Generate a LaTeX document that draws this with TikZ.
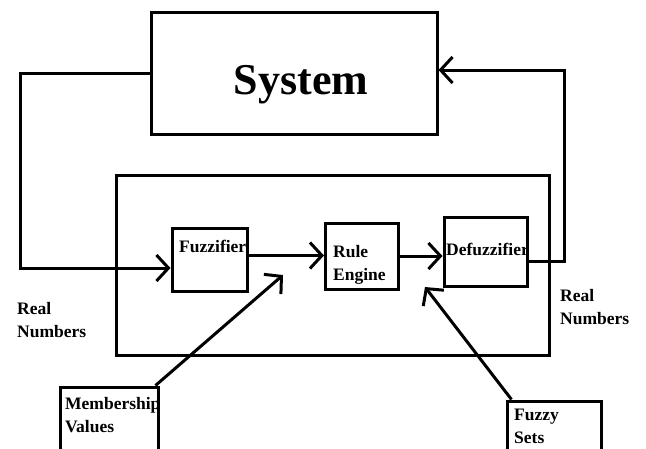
\documentclass[tikz,border=0pt]{standalone}
\usepackage{fontspec}
\setmainfont{Liberation Serif}
\usetikzlibrary{positioning, arrows.meta}

\begin{document}
\begin{tikzpicture}[x=1pt, y=-1pt,
          blk/.style={draw, line width=3pt, inner sep=0pt},
          lbl/.style={font=\bfseries\fontsize{17.5}{23}\selectfont, anchor=base west,
                      inner sep=0pt, align=left},
          wire/.style={line width=3pt},
          arr/.style={wire, -{Straight Barb[length=12pt, width=26pt]}}
        ]
        \useasboundingbox (0,0) rectangle (646,448);
        \clip (0,0) rectangle (646,448);

        % Plant and controller frame
        \node[blk, minimum width=286pt, minimum height=122pt] (sys) at (294,73) {};
        \node[blk, minimum width=433pt, minimum height=180pt] (fls) at (332.5,265) {};

        \node[blk, minimum width=75pt, minimum height=63pt] (fuzz)   at (209.5,259.5) {};
        \node[blk, minimum width=73pt, minimum height=66pt] (rule)   at (362,256) {};
        \node[blk, minimum width=83pt, minimum height=69pt] (defuzz) at (485.5,251.5) {};
        \node[blk, minimum width=98pt, minimum height=86pt] (memb)   at (109,430) {};
        \node[blk, minimum width=94pt, minimum height=72pt] (fsets)  at (554,437) {};

        \node[lbl, anchor=base, font=\bfseries\fontsize{44}{44}\selectfont]
              (sysT) at (301,94) {System};
        \node[lbl] (fuzzT)   at (179,252) {Fuzzifier};
        \node[lbl] (ruleT)   at (333,280) {Rule\\Engine};
        \node[lbl] (defuzzT) at (446,255) {Defuzzifier};
        \node[lbl] (membT)   at (65,432)  {Membership\\Values};
        \node[lbl] (fsetsT)  at (514,443) {Fuzzy\\Sets};
        \node[lbl] (inT)     at (17,337)  {Real\\Numbers};
        \node[lbl] (outT)    at (560,324) {Real\\Numbers};

        \coordinate (fbL)  at (20,268);
        \coordinate (fbR)  at (564,70);
        \coordinate (mvTip) at (283,275);
        \coordinate (fsTip) at (425,287);

        % Signal path
        \draw[arr] (sys.west) -| (fbL) -- (fbL -| fuzz.west);
        \draw[arr] ([yshift=4pt]fuzz.east) -- ([yshift=4pt]fuzz.east -| rule.west);
        \draw[arr] (rule.east) -- (rule.east -| defuzz.west);
        \draw[arr] ([yshift=-10pt]defuzz.east) -| (fbR) -- (fbR -| sys.east);

        \draw[arr] ([xshift=-4pt]memb.north east) -- (mvTip);
        \draw[arr] ([xshift=6pt]fsets.north west) -- (fsTip);
      \end{tikzpicture}
\end{document}
